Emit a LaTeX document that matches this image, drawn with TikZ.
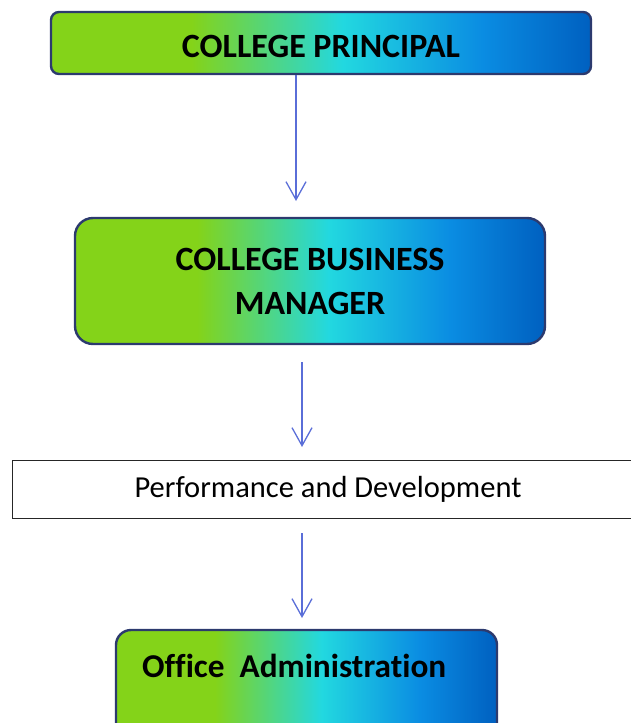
\documentclass[tikz,border=0pt]{standalone}
\usepackage{fontspec}
\setmainfont{Carlito}[Ligatures=NoCommon]
\usetikzlibrary{arrows.meta}

\definecolor{lime}{HTML}{84D319}
\definecolor{aqua}{HTML}{22D8E0}
\definecolor{azure}{HTML}{0A8CE2}
\definecolor{deepblue}{HTML}{0060C0}
\definecolor{navyedge}{HTML}{2C3A6E}
\definecolor{linkblue}{HTML}{5A6ED8}

% green -> cyan -> blue across the box (the path spans 25bp..75bp)
\pgfdeclarehorizontalshading{orgfill}{100bp}{%
  color(0bp)=(lime); color(38bp)=(lime); color(52bp)=(aqua);
  color(65bp)=(azure); color(75bp)=(deepblue); color(100bp)=(deepblue)}

\tikzset{
  rolebox/.style={draw=navyedge, line width=2.4pt, shading=orgfill,
    inner sep=0pt, font=\fontsize{34}{44}\selectfont\bfseries, align=center},
  plainbox/.style={draw=black!85, line width=0.8pt, fill=white, inner sep=0pt,
    font=\fontsize{30.5}{36}\selectfont},
  link/.style={draw=linkblue, line width=1.3pt,
    -{Straight Barb[length=18pt,width=20pt,line width=1.3pt]}}
}

\begin{document}
\begin{tikzpicture}[x=1pt,y=-1pt]
  \useasboundingbox (0,0) rectangle (631,723);
  \clip (0,0) rectangle (631,723);

  \node[rolebox, rounded corners=8pt, minimum width=540pt, minimum height=62pt]
    (principal) at (321,43) {\raisebox{-3pt}[\height][\depth]{COLLEGE PRINCIPAL}};

  \node[rolebox, rounded corners=18pt, minimum width=470pt, minimum height=126pt]
    (manager) at (310,281) {COLLEGE BUSINESS\\MANAGER};

  \node[plainbox, minimum width=632pt, minimum height=58pt]
    (perf) at (328,489) {Performance and Development};

  \node[rolebox, rounded corners=15pt, minimum width=381pt, minimum height=140pt]
    (office) at (306.5,700) {};
  \node[anchor=west, inner sep=0pt, font=\fontsize{33.3}{40}\selectfont\bfseries]
    (officetext) at (142,666) {Office\ \ Administration};

  \draw[link] (principal.south -| 296,0) -- (296,201) coordinate (a1);
  \draw[link] (302,362) coordinate (s2) -- (302,447) coordinate (a2);
  \draw[link] (302,533) coordinate (s3) -- (302,618) coordinate (a3);
\end{tikzpicture}
\end{document}
